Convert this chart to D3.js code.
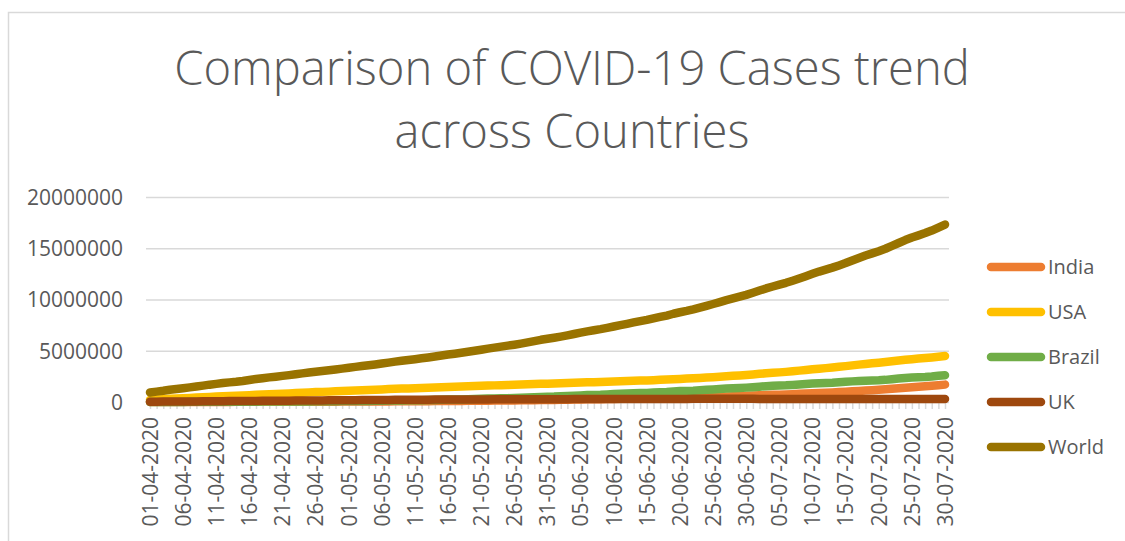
<!DOCTYPE html>
<html>
<head>
<meta charset="utf-8">
<script src="https://cdn.jsdelivr.net/npm/d3@7"></script>
<style>
  body { margin: 0; background: #fff; }
  text { font-family: "Open Sans", "Noto Sans", sans-serif; fill: #595959; }
</style>
</head>
<body>
<svg id="chart" width="1125" height="541"></svg>
<script>
// cumulative confirmed cases, in thousands, 01-04-2020 .. 30-07-2020
const india = [
  2.0,2.5,3.1,3.6,4.8,5.3,5.9,6.7,7.6,8.4,9.2,10.5,11.5,12.3,13.4,14.4,15.7,17.6,18.5,20.1,21.4,23.1,24.5,26.3,27.9,29.5,31.3,33.1,34.9,37.3,
  39.7,42.5,46.4,49.4,53.0,56.4,59.7,62.8,67.2,70.8,74.3,78.1,82.0,85.8,90.6,95.7,100.3,106.5,112.0,118.2,124.8,131.4,138.5,145.0,150.8,158.1,165.4,173.5,181.8,190.6,198.4,
  207.2,216.8,226.7,236.2,246.6,257.5,265.9,276.1,286.6,297.5,309.0,320.9,332.4,343.1,354.1,366.9,380.5,395.0,410.5,425.3,440.2,456.2,473.1,490.4,509.0,528.9,548.3,566.8,585.5,604.6,
  625.5,648.3,673.2,697.4,719.7,742.4,767.3,793.8,820.9,849.6,878.3,906.8,936.2,968.9,1003.8,1039.1,1077.8,1118.2,1155.3,1193.1,1238.6,1287.9,1336.9,1385.5,1435.5,1480.1,1531.7,1583.8,1638.9,1696.0
];
const usa = [
  213,243,275,308,336,366,396,429,462,496,526,555,580,607,636,668,700,732,759,784,811,840,869,905,939,965,988,1012,1039,1069,
  1103,1133,1158,1180,1204,1229,1257,1283,1309,1329,1347,1369,1390,1417,1443,1467,1486,1508,1528,1551,1577,1601,1622,1643,1662,1681,1699,1721,1747,1770,1790,
  1811,1831,1851,1872,1897,1920,1938,1957,1976,1997,2020,2045,2070,2089,2109,2133,2160,2188,2220,2253,2281,2312,2347,2384,2424,2469,2512,2554,2594,2641,
  2691,2747,2802,2845,2890,2938,2999,3060,3119,3186,3246,3305,3364,3431,3499,3576,3647,3711,3773,3834,3898,3970,4039,4113,4178,4234,4290,4351,4419,4487
];
const brazil = [
  6.8,8.0,9.1,10.4,11.1,12.2,14.0,16.2,18.1,19.6,20.7,22.2,23.4,25.3,28.3,30.4,33.7,36.7,38.7,40.7,43.1,45.8,50.0,54.0,59.3,63.1,67.4,73.2,79.7,87.2,
  92.2,97.1,101.8,108.6,115.5,126.6,135.8,146.9,156.1,162.7,169.6,178.2,190.1,203.2,220.3,233.5,241.1,255.4,271.9,291.6,310.1,330.9,347.4,363.2,374.9,391.2,411.8,438.2,465.2,498.4,514.8,
  526.4,555.4,584.0,614.9,645.8,672.8,691.8,707.4,739.5,772.4,802.8,828.8,850.5,867.6,888.3,923.2,955.4,978.1,1032.9,1067.6,1083.3,1106.5,1145.9,1188.6,1228.1,1275.0,1313.7,1344.1,1368.2,1402.0,
  1448.8,1496.9,1539.1,1577.0,1603.1,1623.3,1668.6,1713.2,1755.8,1800.8,1839.9,1864.7,1885.0,1926.8,1966.7,2012.2,2046.3,2074.9,2098.4,2118.6,2159.7,2227.5,2287.5,2343.4,2394.5,2419.1,2442.4,2483.2,2552.3,2610.1
];
const uk = [
  29.5,33.7,38.2,41.9,47.8,51.6,55.2,60.7,65.1,73.8,79.0,84.3,88.6,93.9,98.5,103.1,108.7,114.2,120.1,124.7,129.0,133.5,138.1,143.5,148.4,152.8,157.1,161.1,165.2,171.3,
  177.5,182.3,186.6,190.6,195.0,201.1,206.7,211.4,215.3,219.2,223.1,226.5,229.7,233.2,236.7,240.2,243.7,246.4,248.3,248.8,250.9,254.2,257.2,259.6,261.2,265.2,267.2,269.1,271.2,272.8,274.8,
  276.3,278.0,279.9,281.7,283.3,284.9,286.2,287.4,288.8,290.1,291.4,293.0,294.4,295.9,296.9,298.1,299.3,300.5,301.8,303.1,304.3,305.3,306.2,306.9,308.0,309.4,310.3,311.2,312.0,312.7,
  313.5,284.3,284.9,285.4,285.8,286.3,287.0,287.6,288.1,289.0,289.6,290.1,290.5,291.4,291.9,292.6,293.2,294.1,294.8,295.4,295.8,296.4,297.1,297.9,298.7,299.4,300.1,300.7,301.5,302.3
];
const world = [
  933,1013,1095,1197,1272,1345,1427,1511,1596,1692,1771,1846,1917,1976,2056,2152,2240,2318,2401,2472,2549,2624,2708,2795,2881,2955,3022,3097,3173,3256,
  3343,3427,3506,3582,3662,3755,3845,3937,4024,4101,4177,4261,4347,4442,4542,4634,4713,4801,4897,4996,5102,5210,5308,5404,5496,5589,5696,5816,5940,6067,6170,
  6272,6382,6503,6632,6763,6893,7001,7107,7228,7363,7501,7630,7763,7893,8012,8154,8296,8436,8611,8757,8890,9040,9208,9383,9559,9744,9933,10099,10270,10452,
  10659,10872,11081,11270,11448,11628,11836,12053,12276,12507,12725,12915,13108,13325,13555,13809,14050,14287,14498,14710,14950,15230,15512,15797,16050,16260,16480,16730,17020,17310
];
const seriesNames = ['India', 'USA', 'Brazil', 'UK', 'World'];
const seriesValues = [india, usa, brazil, uk, world];
const colors = ['#ED7D31', '#FFC000', '#70AD47', '#9E480E', '#997300'];
const yTickValues = [0, 5000000, 10000000, 15000000, 20000000];
const titleLines = ['Comparison of COVID-19 Cases trend', 'across Countries'];

const fmt = d3.timeFormat('%d-%m-%Y');
const dates = d3.timeDay.range(new Date(2020, 3, 1), new Date(2020, 6, 31)).map(fmt);

// layout
const plot = { left: 150, right: 945, top: 197, bottom: 402, gridLeft: 146, gridRight: 949 };

const svg = d3.select('#chart');

// chart border
svg.append('rect')
  .attr('x', 8.5).attr('y', 12.5)
  .attr('width', 1140).attr('height', 560)
  .attr('fill', 'none')
  .attr('stroke', '#d9d9d9')
  .attr('stroke-width', 1.5);

// title, fitted to the reference width
const title = svg.append('g');
titleLines.forEach((t, i) => {
  title.append('text')
    .attr('x', 572)
    .attr('y', 85 + i * 63)
    .attr('text-anchor', 'middle')
    .style('font-weight', 300)
    .style('font-size', '50px')
    .text(t);
});
const firstLine = title.select('text').node();
const titleSize = 50 * 796 / firstLine.getComputedTextLength();
title.selectAll('text').style('font-size', titleSize + 'px');

const xScale = d3.scalePoint()
  .domain(dates)
  .range([plot.left, plot.right]);

const yScale = d3.scaleLinear()
  .domain([0, 20000000])
  .range([plot.bottom, plot.top]);

// gridlines + y labels
const yAxisG = svg.append('g')
  .attr('transform', `translate(${plot.gridLeft},0)`)
  .call(d3.axisLeft(yScale).tickValues(yTickValues).tickFormat(d3.format('d'))
    .tickSize(-(plot.gridRight - plot.gridLeft)).tickPadding(23));
yAxisG.select('.domain').remove();
yAxisG.selectAll('line').attr('stroke', '#d9d9d9').attr('stroke-width', 1.5);
yAxisG.selectAll('text')
  .attr('fill', '#595959')
  .style('font-size', '21px')
  .attr('dy', '0.35em');

// category tick marks
const xTickG = svg.append('g')
  .attr('transform', `translate(0,${plot.bottom})`)
  .call(d3.axisBottom(xScale).tickSize(7).tickFormat(''));
xTickG.select('.domain').remove();
xTickG.selectAll('line').attr('stroke', '#d9d9d9').attr('stroke-width', 1.5);

// date labels every 5 days
const xLabelG = svg.append('g')
  .attr('transform', `translate(0,${plot.bottom})`)
  .call(d3.axisBottom(xScale).tickValues(dates.filter((d, i) => i % 5 === 0)).tickSize(0));
xLabelG.select('.domain').remove();
xLabelG.selectAll('text')
  .attr('fill', '#595959')
  .style('font-size', '21px')
  .attr('transform', 'rotate(-90)')
  .attr('text-anchor', 'end')
  .attr('x', -15)
  .attr('y', 0)
  .attr('dy', '0.35em');

// series lines
const lineGenerator = d3.line()
  .x((d, i) => xScale(dates[i]))
  .y(d => yScale(d * 1000));

seriesValues.forEach((vals, i) => {
  svg.append('path')
    .attr('d', lineGenerator(vals))
    .attr('fill', 'none')
    .attr('stroke', colors[i])
    .attr('stroke-width', 8.5)
    .attr('stroke-linecap', 'round')
    .attr('stroke-linejoin', 'round');
});

// legend
const legend = svg.append('g');
seriesNames.forEach((name, i) => {
  const y = 267 + i * 45;
  legend.append('line')
    .attr('x1', 991).attr('x2', 1041)
    .attr('y1', y).attr('y2', y)
    .attr('stroke', colors[i])
    .attr('stroke-width', 8.5)
    .attr('stroke-linecap', 'round');
  legend.append('text')
    .attr('x', 1048)
    .attr('y', y)
    .attr('dy', '0.35em')
    .style('font-size', '20px')
    .text(name);
});
</script>
</body>
</html>
